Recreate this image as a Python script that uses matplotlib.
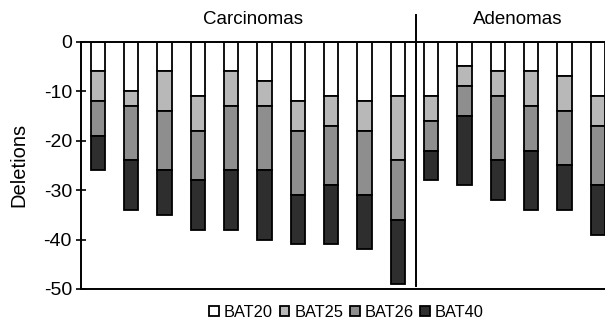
import numpy as np
import matplotlib
matplotlib.use('Agg')
import matplotlib.pyplot as plt

plt.rcParams['font.family'] = ['Liberation Sans', 'DejaVu Sans']
plt.rcParams['axes.unicode_minus'] = False

# deletions per marker, 10 carcinomas then 6 adenomas
groups = ['Carcinomas', 'Adenomas']
n_carc = 10
bat20 = [6, 10, 6, 11, 6, 8, 12, 11, 12, 11,   11, 5, 6, 6, 7, 11]
bat25 = [6, 3, 8, 7, 7, 5, 6, 6, 6, 13,        5, 4, 5, 7, 7, 6]
bat26 = [7, 11, 12, 10, 13, 13, 13, 12, 13, 12, 6, 6, 13, 9, 11, 12]
bat40 = [7, 10, 9, 10, 12, 14, 10, 12, 11, 13,  6, 14, 8, 12, 9, 10]
series = ['BAT20', 'BAT25', 'BAT26', 'BAT40']
colors = ['white', '#b8b8b8', '#8e8e8e', '#2e2e2e']

fig = plt.figure(figsize=(6.05, 3.21), dpi=100)
ax = fig.add_axes([0.1339, 0.0997, 0.8661, 0.7703])

x = np.arange(len(bat20))
bottom = np.zeros(len(x))
for name, vals, c in zip(series, [bat20, bat25, bat26, bat40], colors):
    v = -np.array(vals, dtype=float)
    ax.bar(x, v, width=0.43, bottom=bottom, color=c, edgecolor='black',
           linewidth=1.3, label=name)
    bottom += v

ax.set_xlim(-0.51, 15.22)
ax.set_ylim(-50, 0)
ax.set_yticks([0, -10, -20, -30, -40, -50])
ax.set_xticks([])
ax.set_ylabel('Deletions', fontsize=14.5)
ax.yaxis.set_label_coords(-0.101, 0.5)
ax.tick_params(axis='y', direction='inout', length=7, width=1.2, labelsize=14, pad=3)
for s in ['left', 'bottom', 'top']:
    ax.spines[s].set_linewidth(1.4)
ax.spines['right'].set_visible(False)

# divider between groups
div = n_carc - 0.45
ax.plot([div, div], [5.4, -49.3], color='black', lw=1.4, clip_on=False)
ax.text(4.65, 4.4, groups[0], ha='center', va='center', fontsize=13.5)
ax.text(12.6, 4.4, groups[1], ha='center', va='center', fontsize=13.5)

fig.legend(loc='center', bbox_to_anchor=(0.573, 0.028), ncol=4, frameon=False,
           fontsize=11.8, handlelength=0.6, handleheight=0.6, handletextpad=0.3,
           columnspacing=0.4, borderpad=0)

fig.savefig('out.png', dpi=100)
